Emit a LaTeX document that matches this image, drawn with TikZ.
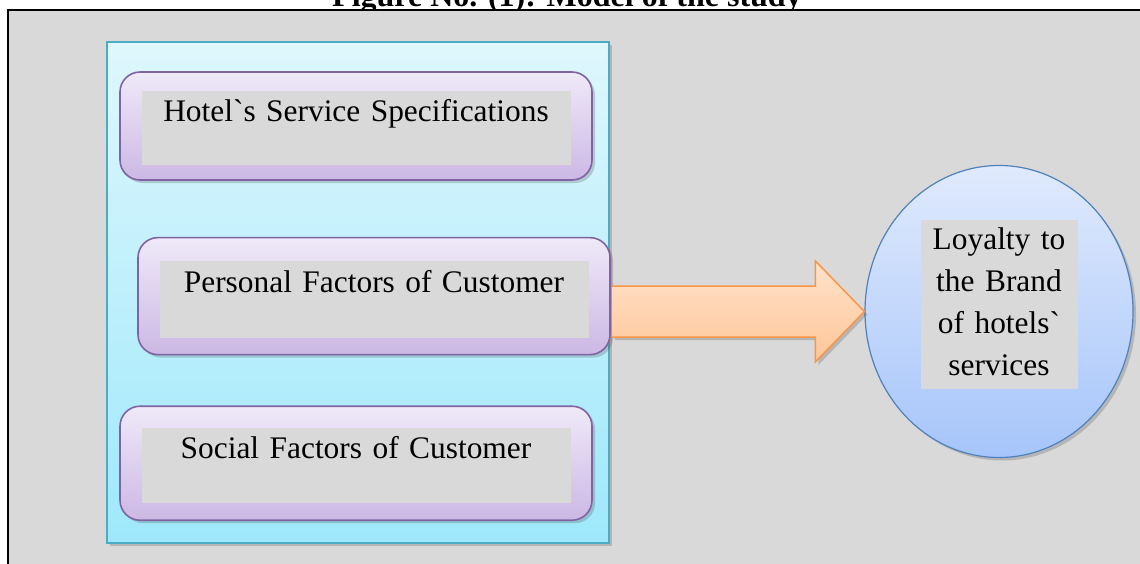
\documentclass[tikz,border=0pt]{standalone}
\usepackage{fontspec}
\setmainfont{Liberation Serif}[Ligatures=TeXOff]
\usetikzlibrary{positioning,shadows,calc,shapes.geometric}
\definecolor{bggray}{HTML}{D9D9D9}
\definecolor{panelline}{HTML}{4BACC6}
\definecolor{paneltop}{HTML}{DFF7FD}
\definecolor{panelbot}{HTML}{9EE8FB}
\definecolor{boxline}{HTML}{8064A2}
\definecolor{boxtop}{HTML}{EFE9F8}
\definecolor{boxbot}{HTML}{CCB8E4}
\definecolor{arrline}{HTML}{F79646}
\definecolor{arrtop}{HTML}{FFE3CB}
\definecolor{arrbot}{HTML}{FFC597}
\definecolor{ovalline}{HTML}{4F81BD}
\definecolor{ovaltop}{HTML}{E0EAFD}
\definecolor{ovalbot}{HTML}{A6C5FA}

\begin{document}
\begin{tikzpicture}[x=0.5pt, y=-0.5pt, font=\fontsize{15.7}{21}\selectfont,
	soft/.style = {drop shadow={shadow xshift=1.5pt, shadow yshift=-1.5pt, opacity=0.25, fill=black!70}},
	panel/.style = {draw=panelline, line width=0.75pt, top color=paneltop, bottom color=panelbot, minimum width=251pt, minimum height=250.5pt, inner sep=0, soft},
	factor/.style = {draw=boxline, line width=0.8pt, rounded corners=10pt, top color=boxtop, bottom color=boxbot, minimum width=236pt, inner sep=0, soft},
	inbox/.style = {fill=bggray, inner sep=0, text width=214.5pt, align=center, text height=15.5pt, text depth=21.5pt},
	oval/.style = {ellipse, draw=ovalline, line width=0.6pt, top color=ovaltop, bottom color=ovalbot, minimum width=134pt, minimum height=146pt, inner sep=0, soft},
	bigarrow/.style = {draw=arrline, line width=0.75pt, top color=arrtop, bottom color=arrbot, line join=miter, soft}]
	\useasboundingbox (0,0) rectangle (1140,563);
	\node[font=\fontsize{16}{21}\selectfont\bfseries, anchor=base] (title) at (567,6) {Figure No. (1): Model of the study};
	\path[fill=bggray, draw=black, line width=1pt] (8,10) rectangle (1200,620);
	\node[panel] (panel) at (358,292.5) {};
	\node[factor, minimum height=54pt] (hotel) at (356,126) {};
	\node[factor, minimum height=58.5pt, below=28pt of hotel, xshift=9pt] (personal) {};
	\node[factor, minimum height=57pt, below=25pt of personal, xshift=-9pt] (social) {};
	\node[inbox, below=9.5pt of hotel.north] (hotellbl) {Hotel`s Service Specifications};
	\node[inbox, text depth=23pt, below=12pt of personal.north] (personallbl) {Personal Factors of Customer};
	\node[inbox, text depth=22pt, below=11pt of social.north] (sociallbl) {Social Factors of Customer};
	\node[oval] (loyalty) at (999,311.5) {};
	\node[inbox, text width=78.5pt, text height=14.5pt, text depth=70pt, anchor=north] (loyaltylbl) at ([yshift=45.75pt]loyalty.center) {Loyalty to the Brand of hotels` services};
	\coordinate (tail) at ($(personal.east |- loyalty.west)+(1,0)$);
	\path[bigarrow] ($(tail)+(0,-25.5)$) -- ($(loyalty.west)+(-49,-25.5)$) -- ($(loyalty.west)+(-49,-50.5)$) -- (loyalty.west) -- ($(loyalty.west)+(-49,50.5)$) -- ($(loyalty.west)+(-49,25.5)$) -- ($(tail)+(0,25.5)$);
\end{tikzpicture}
\end{document}
